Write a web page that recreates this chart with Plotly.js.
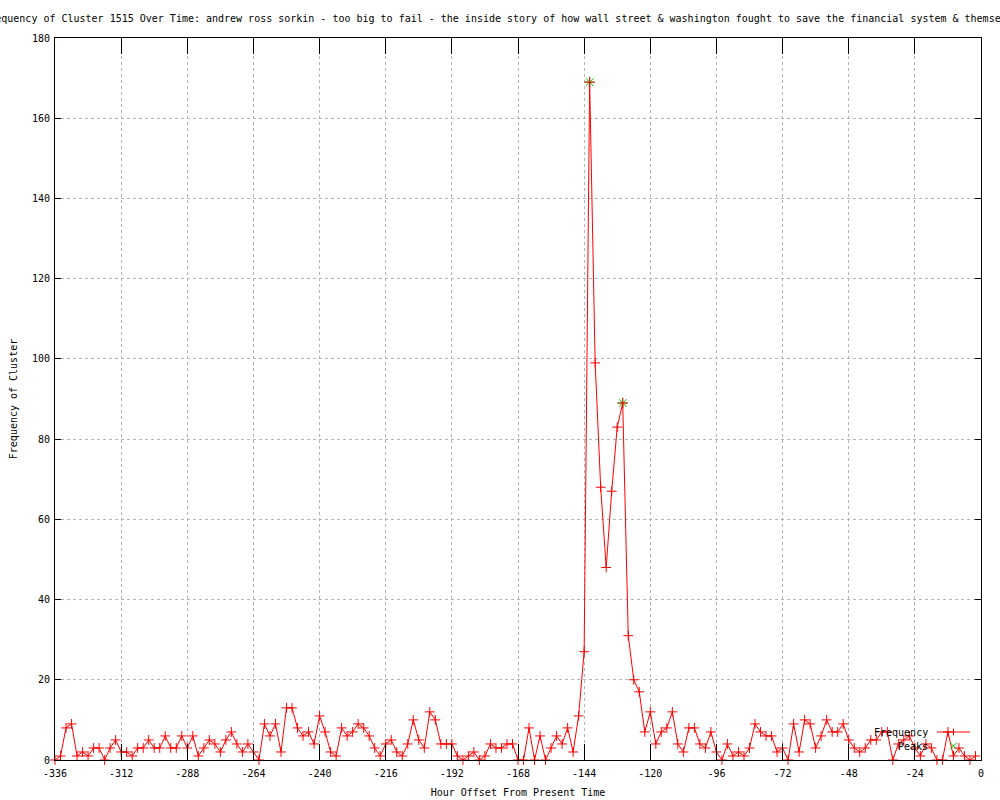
<!DOCTYPE html>
<html>
<head>
<meta charset="utf-8">
<script src="https://cdn.plot.ly/plotly-3.0.1.min.js"></script>
<style>
  html, body { margin: 0; padding: 0; background: #ffffff; }
  #chart { width: 1000px; height: 800px; }
</style>
</head>
<body>
<div id="chart"></div>
<script>
// ---- data ----
const chartTitle = "Frequency of Cluster 1515 Over Time: andrew ross sorkin - too big to fail - the inside story of how wall street & washington fought to save the financial system & themselves";
const xTitle = "Hour Offset From Present Time";
const yTitle = "Frequency of Cluster";

const hours = [
  -336,-334,-332,-330,-328,-326,-324,-322,-320,-318,-316,-314,
  -312,-310,-308,-306,-304,-302,-300,-298,-296,-294,-292,-290,
  -288,-286,-284,-282,-280,-278,-276,-274,-272,-270,-268,-266,
  -264,-262,-260,-258,-256,-254,-252,-250,-248,-246,-244,-242,
  -240,-238,-236,-234,-232,-230,-228,-226,-224,-222,-220,-218,
  -216,-214,-212,-210,-208,-206,-204,-202,-200,-198,-196,-194,
  -192,-190,-188,-186,-184,-182,-180,-178,-176,-174,-172,-170,
  -168,-166,-164,-162,-160,-158,-156,-154,-152,-150,-148,-146,
  -144,-142,-140,-138,-136,-134,-132,-130,-128,-126,-124,-122,
  -120,-118,-116,-114,-112,-110,-108,-106,-104,-102,-100,-98,
  -96,-94,-92,-90,-88,-86,-84,-82,-80,-78,-76,-74,
  -72,-70,-68,-66,-64,-62,-60,-58,-56,-54,-52,-50,
  -48,-46,-44,-42,-40,-38,-36,-34,-32,-30,-28,-26,
  -24,-22,-20,-18,-16,-14,-12,-10,-8,-6,-4,-2
];
const frequency = [
  0,1,8,9,1,2,1,3,3,0,3,5,
  2,2,1,3,3,5,3,3,6,3,3,6,
  3,6,1,3,5,4,2,5,7,4,2,4,
  2,0,9,6,9,2,13,13,8,6,7,4,
  11,7,2,1,8,6,7,9,8,6,3,1,
  4,5,2,1,4,10,5,3,12,10,4,4,
  4,1,0,1,2,0,1,4,3,3,4,4,
  0,0,8,0,6,0,3,6,4,8,2,11,
  27,169,99,68,48,67,83,89,31,20,17,7,
  12,4,7,8,12,4,2,8,8,4,3,7,
  2,0,4,1,2,1,3,9,7,6,6,2,
  3,0,9,2,10,9,3,6,10,7,7,9,
  5,3,2,3,5,5,7,7,0,4,5,6,
  3,1,4,3,0,0,7,1,3,1,0,1
];
const peakHours = [-142, -130];
const peakValues = [169, 89];

const xTickVals = [-336,-312,-288,-264,-240,-216,-192,-168,-144,-120,-96,-72,-48,-24,0];
const yTickVals = [0,20,40,60,80,100,120,140,160,180];
const seriesNames = ["Frequency", "Peaks"];

// ---- styling ----
const FONT = "DejaVu Sans Mono, Liberation Mono, monospace";
const RED = "#ff0000";
const GREEN = "#00c000";
const GRID = "#b4b4b4";

// plot area in pixels (for legend placement)
const L = 55, R = 981, T = 38, B = 760;
const fx = px => (px - L) / (R - L);
const fy = py => (B - py) / (B - T);

const traces = [
  {
    x: peakHours, y: peakValues, type: "scatter", mode: "markers",
    name: seriesNames[1], showlegend: false, cliponaxis: false,
    marker: { symbol: "asterisk-open", size: 9, color: GREEN, line: { color: GREEN, width: 1 } }
  },
  {
    x: hours, y: frequency, type: "scatter", mode: "lines+markers",
    name: seriesNames[0], showlegend: false, cliponaxis: false,
    line: { color: RED, width: 1 },
    marker: { symbol: "cross-thin-open", size: 7, color: RED, line: { color: RED, width: 1 } }
  }
];

// manual gnuplot-style key (text left, sample right)
const keyTextX = fx(930);
const keyRow1 = fy(732);
const keyRow2 = fy(746);
const sampleX = fx(953.5);

const shapes = [
  { type: "line", xref: "paper", yref: "paper", x0: fx(937), x1: fx(970), y0: keyRow1, y1: keyRow1,
    line: { color: RED, width: 1 } },
  { type: "line", xref: "paper", yref: "paper", xsizemode: "pixel", ysizemode: "pixel",
    xanchor: sampleX, yanchor: keyRow1, x0: 0, x1: 0, y0: -3.5, y1: 3.5, line: { color: RED, width: 1 } },
  { type: "line", xref: "paper", yref: "paper", xsizemode: "pixel", ysizemode: "pixel",
    xanchor: sampleX, yanchor: keyRow2, x0: -3.5, x1: 3.5, y0: -3.5, y1: 3.5, line: { color: GREEN, width: 1 } },
  { type: "line", xref: "paper", yref: "paper", xsizemode: "pixel", ysizemode: "pixel",
    xanchor: sampleX, yanchor: keyRow2, x0: -3.5, x1: 3.5, y0: 3.5, y1: -3.5, line: { color: GREEN, width: 1 } }
];

const annotations = [
  { xref: "paper", yref: "paper", x: keyTextX, y: keyRow1, xanchor: "right", yanchor: "middle",
    text: seriesNames[0], showarrow: false, font: { family: FONT, size: 10, color: "#000" } },
  { xref: "paper", yref: "paper", x: keyTextX, y: keyRow2, xanchor: "right", yanchor: "middle",
    text: seriesNames[1], showarrow: false, font: { family: FONT, size: 10, color: "#000" } }
];

const layout = {
  width: 1000, height: 800,
  paper_bgcolor: "#ffffff", plot_bgcolor: "#ffffff",
  margin: { l: L, r: 1000 - R, t: T, b: 800 - B, pad: 0 },
  showlegend: false,
  font: { family: FONT, size: 10, color: "#000000" },
  title: {
    text: chartTitle,
    font: { family: FONT, size: 10, color: "#000000" },
    xref: "container", yref: "container",
    x: 0.504, xanchor: "center", y: 1 - 18 / 800, yanchor: "middle"
  },
  xaxis: {
    range: [-336, 0], autorange: false,
    tickmode: "array", tickvals: xTickVals, ticktext: xTickVals.map(String),
    ticks: "inside", ticklen: 16, tickwidth: 1, tickcolor: "#000",
    showline: true, linecolor: "#000", linewidth: 1, mirror: "ticks",
    showgrid: true, gridcolor: GRID, gridwidth: 1, griddash: "dot",
    zeroline: false, automargin: false,
    tickfont: { family: FONT, size: 10, color: "#000" },
    ticklabelstandoff: 4,
    title: { text: xTitle, font: { family: FONT, size: 10, color: "#000" }, standoff: 10 }
  },
  yaxis: {
    range: [0, 180], autorange: false,
    tickmode: "array", tickvals: yTickVals, ticktext: yTickVals.map(String),
    ticks: "inside", ticklen: 6, tickwidth: 1, tickcolor: "#000",
    showline: true, linecolor: "#000", linewidth: 1, mirror: "ticks",
    showgrid: true, gridcolor: GRID, gridwidth: 1, griddash: "dot",
    zeroline: false, automargin: false,
    tickfont: { family: FONT, size: 10, color: "#000" },
    ticklabelstandoff: 2,
    title: { text: yTitle, font: { family: FONT, size: 10, color: "#000" }, standoff: 12 }
  },
  shapes: shapes,
  annotations: annotations
};

Plotly.newPlot("chart", traces, layout, { displayModeBar: false, staticPlot: true });
</script>
</body>
</html>
